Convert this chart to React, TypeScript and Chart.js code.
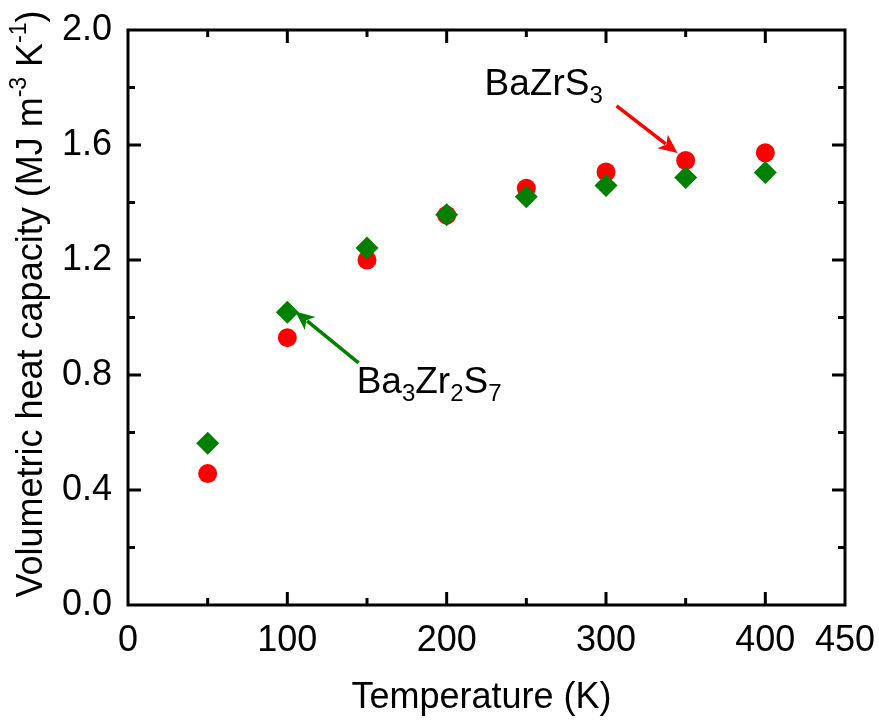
import React, { useEffect, useRef } from 'react';
import { Chart, registerables } from 'chart.js';
Chart.register(...registerables);

const temperatures = [50, 100, 150, 200, 250, 300, 350, 400];
const bazrs3 = [0.457, 0.930, 1.200, 1.356, 1.450, 1.506, 1.546, 1.573];
const ba3zr2s7 = [0.563, 1.018, 1.242, 1.357, 1.420, 1.459, 1.487, 1.504];
const xTickLabels = [0, 100, 200, 300, 400, 450];
const xMajorTicks = [100, 200, 300, 400];
const xMinorTicks = [50, 150, 250, 350];
const yTickLabels = [0, 0.4, 0.8, 1.2, 1.6, 2.0];
const yMajorTicks = [0.4, 0.8, 1.2, 1.6];
const yMinorTicks = [0.2, 0.6, 1.0, 1.4, 1.8];

const FONT = '"Liberation Sans", Arial, sans-serif';

type Part = { t: string; size: number; dy: number };

function richWidth(ctx: CanvasRenderingContext2D, parts: Part[]) {
  let w = 0;
  for (const p of parts) {
    ctx.font = `${p.size}px ${FONT}`;
    w += ctx.measureText(p.t).width;
  }
  return w;
}

function drawRich(ctx: CanvasRenderingContext2D, parts: Part[], x: number, y: number) {
  let cx = x;
  ctx.textBaseline = 'alphabetic';
  ctx.textAlign = 'left';
  for (const p of parts) {
    ctx.font = `${p.size}px ${FONT}`;
    ctx.fillText(p.t, cx, y + p.dy);
    cx += ctx.measureText(p.t).width;
  }
}

function drawArrow(ctx: CanvasRenderingContext2D, x1: number, y1: number, x2: number, y2: number, color: string) {
  const ang = Math.atan2(y2 - y1, x2 - x1);
  const hl = 19;
  const hw = 8.5;
  const bx = x2 - Math.cos(ang) * hl;
  const by = y2 - Math.sin(ang) * hl;
  ctx.strokeStyle = color;
  ctx.fillStyle = color;
  ctx.lineWidth = 3.5;
  ctx.beginPath();
  ctx.moveTo(x1, y1);
  ctx.lineTo(bx + Math.cos(ang) * 4, by + Math.sin(ang) * 4);
  ctx.stroke();
  ctx.beginPath();
  ctx.moveTo(x2, y2);
  ctx.lineTo(bx + Math.cos(ang + Math.PI / 2) * hw, by + Math.sin(ang + Math.PI / 2) * hw);
  ctx.lineTo(bx + Math.cos(ang) * 5, by + Math.sin(ang) * 5);
  ctx.lineTo(bx - Math.cos(ang + Math.PI / 2) * hw, by - Math.sin(ang + Math.PI / 2) * hw);
  ctx.closePath();
  ctx.fill();
}

const framePlugin = {
  id: 'frame',
  afterDraw(chart: any) {
    const { ctx, chartArea: a, scales } = chart;
    const xs = scales.x;
    const ys = scales.y;
    ctx.save();
    ctx.strokeStyle = '#000';
    ctx.lineWidth = 3;
    ctx.lineJoin = 'miter';
    ctx.strokeRect(a.left, a.top, a.right - a.left, a.bottom - a.top);
    ctx.lineWidth = 3;
    ctx.beginPath();
    const tickX = (v: number, len: number) => {
      const px = xs.getPixelForValue(v);
      ctx.moveTo(px, a.bottom);
      ctx.lineTo(px, a.bottom - len);
      ctx.moveTo(px, a.top);
      ctx.lineTo(px, a.top + len);
    };
    const tickY = (v: number, len: number) => {
      const py = ys.getPixelForValue(v);
      ctx.moveTo(a.left, py);
      ctx.lineTo(a.left + len, py);
      ctx.moveTo(a.right, py);
      ctx.lineTo(a.right - len, py);
    };
    xMajorTicks.forEach((v) => tickX(v, 13));
    xMinorTicks.forEach((v) => tickX(v, 7));
    yMajorTicks.forEach((v) => tickY(v, 13));
    yMinorTicks.forEach((v) => tickY(v, 7));
    ctx.stroke();

    // axis titles
    ctx.fillStyle = '#000';
    const xt: Part[] = [{ t: 'Temperature (K)', size: 36, dy: 0 }];
    const xw = richWidth(ctx, xt);
    drawRich(ctx, xt, (a.left + a.right) / 2 - 5 - xw / 2, 708);

    const yt: Part[] = [
      { t: 'Volumetric heat capacity (MJ m', size: 36, dy: 0 },
      { t: '-3', size: 23, dy: -16 },
      { t: ' K', size: 36, dy: 0 },
      { t: '-1', size: 23, dy: -16 },
      { t: ')', size: 36, dy: 0 },
    ];
    const yw = richWidth(ctx, yt);
    ctx.save();
    ctx.translate(42, 304);
    ctx.rotate(-Math.PI / 2);
    drawRich(ctx, yt, -yw / 2, 0);
    ctx.restore();

    // annotations
    drawArrow(ctx, xs.getPixelForValue(306.6), ys.getPixelForValue(1.736), xs.getPixelForValue(344.9), ys.getPixelForValue(1.572), '#FF0000');
    drawArrow(ctx, xs.getPixelForValue(144.7), ys.getPixelForValue(0.842), xs.getPixelForValue(105.1), ys.getPixelForValue(1.021), '#008000');

    ctx.fillStyle = '#000';
    drawRich(ctx, [
      { t: 'BaZrS', size: 37, dy: 0 },
      { t: '3', size: 24, dy: 8 },
    ], xs.getPixelForValue(223.8), ys.getPixelForValue(1.774));
    drawRich(ctx, [
      { t: 'Ba', size: 37, dy: 0 },
      { t: '3', size: 24, dy: 8 },
      { t: 'Zr', size: 37, dy: 0 },
      { t: '2', size: 24, dy: 8 },
      { t: 'S', size: 37, dy: 0 },
      { t: '7', size: 24, dy: 8 },
    ], xs.getPixelForValue(143.5), ys.getPixelForValue(0.737));
    ctx.restore();
  },
};

export default function App() {
  const ref = useRef<HTMLCanvasElement>(null);
  useEffect(() => {
    document.body.style.margin = '0';
    const canvas = ref.current!;
    const chart = new Chart(canvas, {
      type: 'scatter',
      data: {
        datasets: [
          {
            label: 'Ba3Zr2S7',
            data: temperatures.map((t, i) => ({ x: t, y: ba3zr2s7[i] })),
            pointStyle: 'rectRot',
            pointRadius: 11.5,
            pointBackgroundColor: '#008000',
            pointBorderWidth: 0,
            order: 0,
          },
          {
            label: 'BaZrS3',
            data: temperatures.map((t, i) => ({ x: t, y: bazrs3[i] })),
            pointStyle: 'circle',
            pointRadius: 9.5,
            pointBackgroundColor: '#FF0000',
            pointBorderWidth: 0,
            order: 1,
          },
        ],
      },
      options: {
        animation: false,
        responsive: false,
        maintainAspectRatio: false,
        layout: { padding: { left: 0, top: 30, right: 34, bottom: 0 } },
        plugins: { legend: { display: false }, tooltip: { enabled: false } },
        scales: {
          x: {
            type: 'linear',
            min: 0,
            max: 450,
            grid: { display: false, drawTicks: false },
            border: { display: false },
            afterBuildTicks: (s: any) => {
              s.ticks = xTickLabels.map((v) => ({ value: v }));
            },
            afterFit: (s: any) => {
              s.height = 118;
              s.paddingLeft = 0;
              s.paddingRight = 0;
              s.paddingTop = 0;
              s.paddingBottom = 0;
            },
            ticks: {
              autoSkip: false,
              maxRotation: 0,
              padding: 14,
              color: '#000',
              font: { family: FONT, size: 36 },
              callback: (v: any) => String(v),
            },
          },
          y: {
            type: 'linear',
            min: 0,
            max: 2,
            grid: { display: false, drawTicks: false },
            border: { display: false },
            afterBuildTicks: (s: any) => {
              s.ticks = yTickLabels.map((v) => ({ value: v }));
            },
            afterFit: (s: any) => {
              s.width = 128;
              s.paddingLeft = 0;
              s.paddingRight = 0;
              s.paddingTop = 0;
              s.paddingBottom = 0;
            },
            ticks: {
              autoSkip: false,
              padding: 16,
              color: '#000',
              font: { family: FONT, size: 36 },
              callback: (v: any) => Number(v).toFixed(1),
            },
          },
        },
      },
      plugins: [framePlugin],
    });
    return () => chart.destroy();
  }, []);
  return <canvas ref={ref} width={879} height={723} style={{ display: 'block', width: 879, height: 723 }} />;
}
